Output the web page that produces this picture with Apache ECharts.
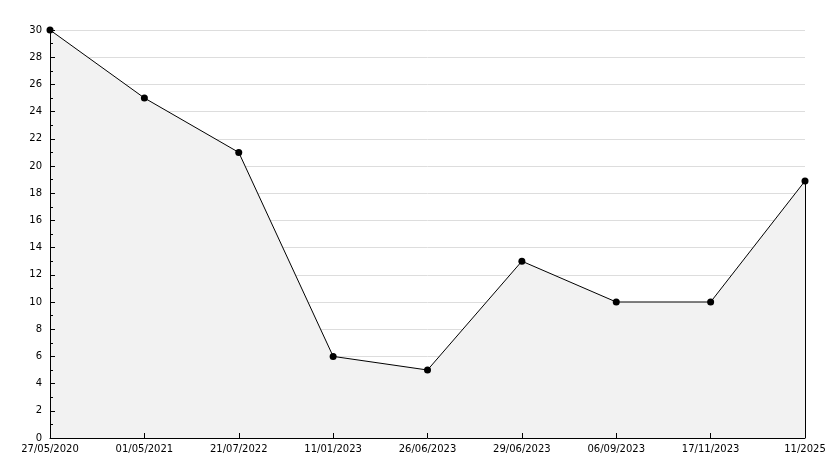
<!DOCTYPE html>
<html>
<head>
<meta charset="utf-8">
<script src="https://cdn.jsdelivr.net/npm/echarts@6/dist/echarts.min.js"></script>
<style>
html, body { margin: 0; padding: 0; background: #fff; }
#chart { width: 834px; height: 468px; }
</style>
</head>
<body>
<div id="chart"></div>
<script>
// dates along the bottom and the measured values
const categories = ['27/05/2020', '01/05/2021', '21/07/2022', '11/01/2023', '26/06/2023', '29/06/2023', '06/09/2023', '17/11/2023', '11/2025']
const values = [30, 25, 21, 6, 5, 13, 10, 10, 18.9]

const chart = echarts.init(document.getElementById('chart'))
const font = 'DejaVu Sans'
const lastCat = categories[categories.length - 1]
const lastVal = values[values.length - 1]

chart.setOption({
    animation: false,
    grid: { left: 50, right: 29, top: 30, bottom: 30 },
    xAxis: [{ // 底部标签
        type: 'category',
        data: categories,
        boundaryGap: false,
        axisLine: { show: false },
        axisTick: { show: false },
        axisLabel: { color: '#000', fontFamily: font, fontSize: 10, margin: 6, interval: 0 },
        splitLine: { show: false }
    }, { // 轴线和刻度，画在面积之上
        type: 'category',
        data: categories,
        boundaryGap: false,
        position: 'bottom',
        z: 10,
        axisLine: { show: true, onZero: false, lineStyle: { color: '#000', width: 1 } },
        axisTick: { show: true, inside: true, length: 5, lineStyle: { color: '#000' } },
        axisLabel: { show: false },
        splitLine: { show: false }
    }],
    yAxis: [{ // 标签和网格线
        type: 'value',
        min: 0,
        max: 30,
        interval: 2,
        axisLine: { show: false },
        axisTick: { show: false },
        axisLabel: { color: '#000', fontFamily: font, fontSize: 10, margin: 8 },
        splitLine: { show: true, lineStyle: { color: '#dddddd', width: 1 } }
    }, {
        type: 'value',
        min: 0,
        max: 30,
        interval: 2,
        position: 'left',
        z: 10,
        axisLine: { show: true, onZero: false, lineStyle: { color: '#000', width: 1 } },
        axisTick: { show: true, inside: true, length: 5, lineStyle: { color: '#000' } },
        minorTick: { show: true, splitNumber: 2, length: 3, lineStyle: { color: '#000' } },
        axisLabel: { show: false },
        splitLine: { show: false }
    }],
    series: [{
        type: 'line',
        data: values,
        symbol: 'circle',
        symbolSize: 7,
        z: 2,
        itemStyle: { color: '#000' },
        lineStyle: { color: '#000', width: 1 },
        areaStyle: { color: '#f2f2f2', opacity: 1 },
        markLine: { // 右侧闭合竖线
            silent: true,
            symbol: 'none',
            label: { show: false },
            lineStyle: { color: '#000', width: 1, type: 'solid' },
            data: [[{ coord: [lastCat, lastVal] }, { coord: [lastCat, 0] }]]
        }
    }]
})
</script>
</body>
</html>
